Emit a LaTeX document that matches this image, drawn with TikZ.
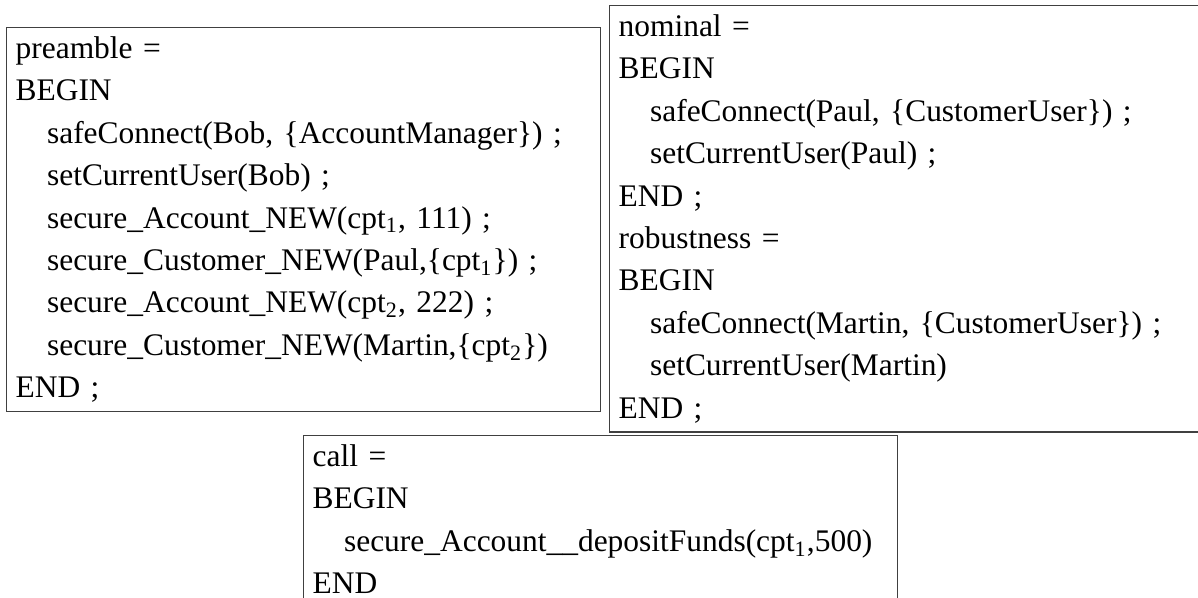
\documentclass[tikz,border=0pt]{standalone}
\usepackage{fontspec}
\setmainfont{Liberation Serif}

\begin{document}
\begin{tikzpicture}[x=0.3785pt, y=-0.3785pt,
    codebox/.style={draw=black!75, line width=0.5pt, anchor=north west, align=left,
        text width=218pt, inner sep=3.4pt, font=\fontsize{11.9}{16.05}\selectfont}]
    \def\ind{\hspace*{1em}}
    \useasboundingbox (0,0) rectangle (1198,597);
    \clip (0,0) rectangle (1198,597);

    \node[codebox] (preamble) at (6,27) {preamble =\\
        BEGIN\\
        \ind safeConnect(Bob, \{AccountManager\}) ;\\
        \ind setCurrentUser(Bob) ;\\
        \ind secure\_Account\_NEW(cpt\textsubscript{1}, 111) ;\\
        \ind secure\_Customer\_NEW(Paul,\{cpt\textsubscript{1}\}) ;\\
        \ind secure\_Account\_NEW(cpt\textsubscript{2}, 222) ;\\
        \ind secure\_Customer\_NEW(Martin,\{cpt\textsubscript{2}\})\\
        END ;};

    \node[codebox] (nominal) at (609,5) {nominal =\\
        BEGIN\\
        \ind safeConnect(Paul, \{CustomerUser\}) ;\\
        \ind setCurrentUser(Paul) ;\\
        END ;\\
        robustness =\\
        BEGIN\\
        \ind safeConnect(Martin, \{CustomerUser\}) ;\\
        \ind setCurrentUser(Martin)\\
        END ;};

    \node[codebox] (call) at (303,435) {call =\\
        BEGIN\\
        \ind secure\_Account\_\_depositFunds(cpt\textsubscript{1},500)\\
        END\\
        \strut};
\end{tikzpicture}
\end{document}
